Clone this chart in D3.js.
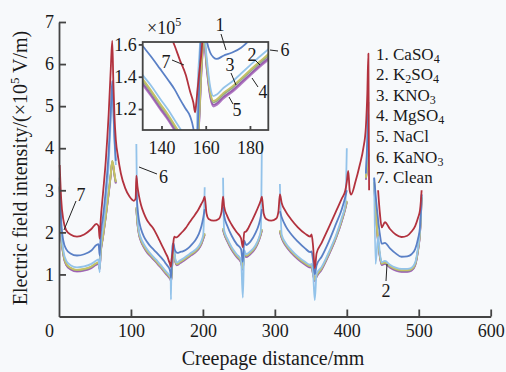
<!DOCTYPE html>
<html lang="en">
<head>
<meta charset="UTF-8">
<title>Creepage electric field</title>
<script src="https://d3js.org/d3.v7.min.js"></script>
<style>
    body {margin: 0; background: #f7f9fb;}
    svg {font-family: "Liberation Serif", "Times New Roman", "DejaVu Serif", serif;}
    text {fill: #1a1a1a;}
    .axis path, .axis line {stroke: #444; stroke-width: 1.8;}
    .curve {fill: none; stroke-width: 1.8; stroke-linejoin: round;}
    .lead {stroke: #222; stroke-width: 1;}
</style>
</head>
<body>
<script>
    // creepage distance (mm), shared by every series; null = no value drawn
    const distance = [
        1, 3, 6, 10, 16, 25, 35, 45, 52, 55, 56.5, 58, 61, 65, 69, 72, 74, 75.5, 77, 79,
        82, 86, 92, 98, 104, 106.5,
        107.5, 109, 111, 114, 118, 122, 126, 131.5, 135, 139.3, 143, 146, 148.4, 151, 152.9, 154.4,
        155.2, 155.6, 156.3, 157.2, 158.2, 159.2, 160.5, 162, 163.5, 165, 168, 172, 176, 180, 184, 189,
        194, 198, 200.5, 202.5,
        205, 208, 215, 222, 226,
        228, 229.5, 234, 240, 247, 253, 255.5, 257.5, 260, 266, 273, 278, 280.5, 282,
        284.5, 288, 295, 302, 305,
        307, 309.5, 315, 323, 332, 342, 349, 351, 353, 355.5, 358, 365, 375, 385, 393, 398, 400,
        402, 404, 406, 412, 418, 423,
        426.5, 428.5, 430, 431,
        435,
        438, 440, 443.5, 446, 448.5, 453, 460, 468, 476, 484, 490, 495, 499, 501.7, 503, 504
    ];

    const clean = [
        3.60, 2.80, 2.30, 2.05, 1.95, 1.90, 1.95, 2.08, 2.20, 2.15, 1.85, 2.30, 2.90, 3.70, 4.80, 5.90, 6.55, 5.60, 4.80, 4.20,
        3.80, 3.40, 3.05, 2.85, 2.75, 2.80,
        3.35, 3.10, 2.88, 2.65, 2.45, 2.30, 2.20, 2.08, 1.97, 1.82, 1.69, 1.59, 1.50, 1.41, 1.31, 1.24,
        1.18, 1.22, 1.32, 1.44, 1.57, 1.80, 1.90, 1.88, 1.88, 1.90, 1.95, 2.02, 2.10, 2.20, 2.30, 2.42,
        2.55, 2.68, 2.76, 2.85,
        2.45, 2.32, 2.28, 2.32, 2.50,
        2.85, 2.62, 2.38, 2.18, 2.00, 1.86, 1.65, 2.00, 2.02, 2.20, 2.45, 2.65, 2.76, 2.85,
        2.45, 2.32, 2.28, 2.33, 2.50,
        2.90, 2.70, 2.50, 2.30, 2.12, 1.97, 1.90, 1.95, 1.70, 1.14, 1.50, 1.75, 2.12, 2.50, 2.80, 3.00, 3.20,
        3.46, 3.00, 2.90, 3.20, 3.60, 4.00,
        4.50, 5.30, 6.25, 3.00,
        null,
        null, null, 3.00, 2.45, 2.12, 2.24, 2.08, 1.95, 1.89, 1.92, 2.02, 2.15, 2.35, 2.52, 2.75, 3.00
    ];

    const caso4 = [
        3.30, 2.30, 1.80, 1.60, 1.50, 1.45, 1.48, 1.57, 1.70, 1.72, 1.45, 1.95, 2.35, 3.00, 3.90, 4.90, 5.60, 5.00, 4.30, 3.70,
        null, null, null, null, null, null,
        3.00, 2.60, 2.30, 2.08, 1.90, 1.78, 1.69, 1.59, 1.53, 1.45, 1.38, 1.32, 1.26, 1.20, 1.156, 1.08,
        1.00, 0.92, 1.05, 1.40, 1.72, 1.74, 1.62, 1.55, 1.52, 1.51, 1.53, 1.55, 1.58, 1.63, 1.70, 1.80,
        1.95, 2.15, 2.35, 2.55,
        null, null, null, null, null,
        2.60, 2.40, 2.15, 1.92, 1.72, 1.60, 1.30, 1.80, 1.70, 1.78, 1.98, 2.20, 2.38, 2.55,
        null, null, null, null, null,
        2.50, 2.36, 2.15, 1.95, 1.78, 1.62, 1.53, 1.55, 1.35, 1.00, 1.22, 1.42, 1.78, 2.20, 2.55, 2.85, 3.00,
        null, null, null, null, null, null,
        3.40, 4.20, 5.10, null,
        null,
        3.30, 2.90, 2.30, 1.95, 1.73, 1.75, 1.62, 1.50, 1.42, 1.43, 1.48, 1.60, 1.85, 2.12, 2.50, 2.90
    ];

    const k2so4 = [
        3.10, 2.00, 1.50, 1.26, 1.16, 1.11, 1.13, 1.19, 1.27, 1.29, 1.16, 1.55, 1.90, 2.40, 2.95, 3.40, 3.70, 3.60, 3.40, 3.20,
        null, null, null, null, null, null,
        2.60, 2.25, 2.00, 1.82, 1.68, 1.57, 1.49, 1.386, 1.32, 1.235, 1.165, 1.10, 1.05, 1.00, 0.96, 0.93,
        0.90, 0.85, 0.95, 1.20, 1.50, 1.65, 1.48, 1.31, 1.25, 1.26, 1.30, 1.34, 1.39, 1.44, 1.49, 1.55,
        1.64, 1.76, 1.88, 1.98,
        null, null, null, null, null,
        2.10, 2.00, 1.82, 1.62, 1.45, 1.32, 1.15, 1.52, 1.45, 1.52, 1.66, 1.85, 1.98, 2.08,
        null, null, null, null, null,
        2.05, 1.90, 1.72, 1.55, 1.40, 1.27, 1.20, 1.22, 1.05, 0.88, 0.98, 1.15, 1.50, 1.90, 2.30, 2.60, 2.75,
        null, null, null, null, null, null,
        3.30, 3.60, 3.90, null,
        null,
        3.20, 2.60, 1.80, 1.45, 1.26, 1.29, 1.20, 1.13, 1.10, 1.10, 1.13, 1.25, 1.60, 2.00, 2.40, 2.85
    ];

    const kno3 = [
        3.09, 1.99, 1.49, 1.25, 1.15, 1.10, 1.12, 1.18, 1.26, 1.28, 1.15, 1.54, 1.89, 2.39, 2.94, 3.39, 3.69, 3.59, 3.39, 3.19,
        null, null, null, null, null, null,
        2.59, 2.24, 1.99, 1.81, 1.67, 1.56, 1.48, 1.376, 1.31, 1.225, 1.155, 1.09, 1.04, 0.99, 0.95, 0.92,
        0.89, 0.84, 0.94, 1.19, 1.49, 1.64, 1.47, 1.30, 1.24, 1.25, 1.29, 1.33, 1.38, 1.43, 1.48, 1.54,
        1.63, 1.75, 1.87, 1.97,
        null, null, null, null, null,
        2.09, 1.99, 1.81, 1.61, 1.44, 1.31, 1.14, 1.51, 1.44, 1.51, 1.65, 1.84, 1.97, 2.07,
        null, null, null, null, null,
        2.04, 1.89, 1.71, 1.54, 1.39, 1.26, 1.19, 1.21, 1.04, 0.87, 0.97, 1.14, 1.49, 1.89, 2.29, 2.59, 2.74,
        null, null, null, null, null, null,
        3.28, 3.58, 3.87, null,
        null,
        3.19, 2.59, 1.79, 1.44, 1.25, 1.28, 1.19, 1.12, 1.09, 1.09, 1.12, 1.24, 1.59, 1.99, 2.39, 2.84
    ];

    const mgso4 = [
        3.07, 1.97, 1.47, 1.23, 1.13, 1.08, 1.10, 1.16, 1.24, 1.26, 1.13, 1.52, 1.87, 2.37, 2.92, 3.37, 3.67, 3.57, 3.37, 3.17,
        null, null, null, null, null, null,
        2.57, 2.22, 1.97, 1.79, 1.65, 1.54, 1.46, 1.36, 1.295, 1.21, 1.14, 1.075, 1.025, 0.975, 0.935, 0.905,
        0.875, 0.83, 0.92, 1.17, 1.47, 1.62, 1.45, 1.285, 1.225, 1.235, 1.275, 1.315, 1.365, 1.415, 1.465, 1.525,
        1.61, 1.73, 1.85, 1.95,
        null, null, null, null, null,
        2.07, 1.97, 1.79, 1.59, 1.42, 1.29, 1.12, 1.49, 1.42, 1.49, 1.63, 1.82, 1.95, 2.05,
        null, null, null, null, null,
        2.02, 1.87, 1.69, 1.52, 1.37, 1.24, 1.17, 1.19, 1.02, 0.85, 0.95, 1.12, 1.47, 1.87, 2.27, 2.57, 2.72,
        null, null, null, null, null, null,
        3.26, 3.56, 3.85, null,
        null,
        3.17, 2.57, 1.77, 1.42, 1.23, 1.26, 1.17, 1.10, 1.07, 1.07, 1.10, 1.22, 1.57, 1.97, 2.37, 2.82
    ];

    const nacl = [
        3.06, 1.96, 1.46, 1.22, 1.12, 1.07, 1.09, 1.15, 1.23, 1.25, 1.12, 1.51, 1.86, 2.36, 2.91, 3.36, 3.66, 3.56, 3.36, 3.16,
        null, null, null, null, null, null,
        2.56, 2.21, 1.96, 1.78, 1.64, 1.53, 1.45, 1.35, 1.285, 1.20, 1.13, 1.065, 1.015, 0.965, 0.925, 0.895,
        0.865, 0.82, 0.91, 1.16, 1.46, 1.61, 1.44, 1.275, 1.215, 1.225, 1.265, 1.305, 1.355, 1.405, 1.455, 1.515,
        1.60, 1.72, 1.84, 1.94,
        null, null, null, null, null,
        2.06, 1.96, 1.78, 1.58, 1.41, 1.28, 1.11, 1.48, 1.41, 1.48, 1.62, 1.81, 1.94, 2.04,
        null, null, null, null, null,
        2.01, 1.86, 1.68, 1.51, 1.36, 1.23, 1.16, 1.18, 1.01, 0.84, 0.94, 1.11, 1.46, 1.86, 2.26, 2.56, 2.71,
        null, null, null, null, null, null,
        3.25, 3.55, 3.84, null,
        null,
        3.16, 2.56, 1.76, 1.41, 1.22, 1.25, 1.16, 1.09, 1.06, 1.06, 1.09, 1.21, 1.56, 1.96, 2.36, 2.81
    ];

    const kano3 = [
        3.20, 2.10, 1.58, 1.33, 1.22, 1.17, 1.19, 1.25, 1.33, 1.36, 1.05, 1.70, 2.10, 2.70, 3.60, 4.70, 5.45, 4.90, 4.20, 3.60,
        null, null, null, null, null, null,
        4.10, 2.40, 2.05, 1.86, 1.72, 1.61, 1.52, 1.41, 1.35, 1.265, 1.195, 1.13, 1.08, 1.03, 0.99, 0.96,
        0.93, 0.40, 1.30, 1.55, 1.72, 1.68, 1.51, 1.34, 1.28, 1.29, 1.33, 1.37, 1.42, 1.47, 1.52, 1.58,
        1.67, 1.80, 1.95, 3.07,
        null, null, null, null, null,
        3.30, 2.05, 1.85, 1.65, 1.48, 1.35, 0.45, 1.58, 1.48, 1.55, 1.69, 1.88, 2.05, 4.17,
        null, null, null, null, null,
        3.15, 1.95, 1.75, 1.58, 1.43, 1.30, 1.23, 1.25, 1.08, 0.39, 1.02, 1.18, 1.53, 1.93, 2.35, 2.68, 4.00,
        null, null, null, null, null, null,
        3.40, 4.00, 4.80, null,
        null,
        3.30, 1.25, 1.90, 1.50, 1.29, 1.32, 1.23, 1.16, 1.13, 1.13, 1.16, 1.28, 1.65, 2.05, 2.45, 2.90
    ];

    const labels  = ["CaSO4", "K2SO4", "KNO3", "MgSO4", "NaCl", "KaNO3", "Clean"];
    const colors  = ["#5a80c6", "#c6c164", "#93ab86", "#9a5db0", "#b27cc4", "#93c3ea", "#b2323e"];
    const xTicks  = [0, 100, 200, 300, 400, 500, 600];
    const yTicks  = [1, 2, 3, 4, 5, 6, 7];
    const insetXTicks = [140, 160, 180];
    const insetYTicks = [1.2, 1.4, 1.6];

    const series = [caso4, k2so4, kno3, mgso4, nacl, kano3, clean]
            .map((values, i) => ({label: labels[i], color: colors[i], values: values}));
    // bottom to top: 5, 4, 3, 2, 6, 1, 7
    const drawOrder = [4, 3, 2, 1, 5, 0, 6].map(i => series[i]);

    const width = 506, height = 372;

    const x = d3.scaleLinear().domain([0, 600]).range([59, 490.7]);
    const y = d3.scaleLinear().domain([0, 7]).range([316.5, 22]);

    const svg = d3.select("body").append("svg")
            .attr("width", width).attr("height", height);

    const rows = d3.range(distance.length);
    const lineFor = (values, sx, sy) => d3.line()
            .defined(i => values[i] != null)
            .x(i => sx(distance[i]))
            .y(i => sy(values[i]))
            .curve(d3.curveMonotoneX)(rows);

    // main curves
    svg.append("g").selectAll("path")
        .data(drawOrder).join("path")
        .attr("class", "curve")
        .attr("stroke", d => d.color)
        .attr("d", d => lineFor(d.values, x, y));

    // axes, ticks pointing inwards
    const xAxis = svg.append("g").attr("class", "axis")
            .attr("transform", `translate(0,${y(0)})`)
            .call(d3.axisBottom(x).tickValues(xTicks).tickFormat(d3.format("d"))
                    .tickSize(-7).tickSizeOuter(0).tickPadding(8));
    svg.append("g").attr("class", "axis")
            .attr("transform", `translate(${x(0)},0)`)
            .call(d3.axisLeft(y).tickValues(yTicks).tickFormat(d3.format("d"))
                    .tickSize(-7).tickSizeOuter(0).tickPadding(5));
    xAxis.selectAll(".tick").filter(d => d === 0).select("text").attr("x", -10);
    xAxis.selectAll(".tick").filter(d => d === 0).select("line").remove();

    svg.append("text")
        .attr("x", 273).attr("y", 365)
        .attr("text-anchor", "middle").attr("font-size", 20)
        .text("Creepage distance/mm");

    const yTitle = svg.append("text")
        .attr("transform", "translate(27,168) rotate(-90)")
        .attr("text-anchor", "middle").attr("font-size", 20);
    yTitle.append("tspan").text("Electric field intensity/(\u00d710");
    yTitle.append("tspan").attr("font-size", 13).attr("dy", -8).text("5");
    yTitle.append("tspan").attr("dy", 8).text(" V/m)");

    // chemical formula with subscript digits
    function formula(sel, str) {
        let shifted = false;
        str.split(/(\d+)/).filter(s => s).forEach(s => {
            const sub = /^\d+$/.test(s);
            const t = sel.append("tspan").text(s);
            if (sub) { t.attr("font-size", 12).attr("dy", shifted ? 0 : 3); shifted = true; }
            else { t.attr("dy", shifted ? -3 : 0); shifted = false; }
        });
    }

    // legend
    const legend = svg.append("g").attr("font-size", 17);
    series.forEach((s, i) => {
        const t = legend.append("text").attr("x", 376).attr("y", 59.5 + i * 20.6);
        t.append("tspan").text(`${i + 1}. `);
        formula(t, s.label);
    });

    // inset zoom
    const ix = d3.scaleLinear().domain([131.5, 188.3]).range([142.7, 268.3]);
    const iy = d3.scaleLinear().domain([1.07, 1.615]).range([130, 42]);
    const box = {x: ix.range()[0], y: iy.range()[1],
                 w: ix.range()[1] - ix.range()[0], h: iy.range()[0] - iy.range()[1]};

    svg.append("clipPath").attr("id", "insetClip")
        .append("rect")
        .attr("x", box.x).attr("y", box.y).attr("width", box.w).attr("height", box.h);

    const inset = svg.append("g");
    inset.append("rect")
        .attr("x", box.x).attr("y", box.y).attr("width", box.w).attr("height", box.h)
        .attr("fill", "#fbfcfd");
    inset.append("g").attr("clip-path", "url(#insetClip)")
        .selectAll("path")
        .data(drawOrder).join("path")
        .attr("class", "curve")
        .attr("stroke-width", 2)
        .attr("stroke", d => d.color)
        .attr("d", d => lineFor(d.values, ix, iy));
    inset.append("rect")
        .attr("x", box.x).attr("y", box.y).attr("width", box.w).attr("height", box.h)
        .attr("fill", "none").attr("stroke", "#444").attr("stroke-width", 1.8);

    inset.append("g").attr("class", "axis")
        .attr("transform", `translate(0,${iy.range()[0]})`)
        .call(d3.axisBottom(ix).tickValues(insetXTicks).tickSize(-4).tickSizeOuter(0).tickPadding(11))
        .call(g => g.select(".domain").remove());
    inset.append("g").attr("class", "axis")
        .attr("transform", `translate(${ix.range()[0]},0)`)
        .call(d3.axisLeft(iy).tickValues(insetYTicks).tickFormat(d3.format(".1f"))
                .tickSize(4).tickSizeOuter(0).tickPadding(2))
        .call(g => g.select(".domain").remove());

    // d3 axes set their own font; use the page font at the chart's size instead
    svg.selectAll(".axis").attr("font-family", null).attr("font-size", 18);
    svg.selectAll(".axis text").attr("fill", "#1a1a1a");

    const mult = svg.append("text").attr("x", 147).attr("y", 34).attr("font-size", 18);
    mult.append("tspan").text("\u00d710");
    mult.append("tspan").attr("font-size", 12).attr("dy", -8).text("5");

    // numbered call-outs: [label, text x, text y, leader x1, y1, x2, y2]
    const callouts = [
        ["7", 81, 201, 76, 201, 64, 230],
        ["6", 163.5, 183, 139, 167, 157, 174],
        ["2", 386, 297, 387, 264, 386, 281],
        ["1", 220, 31, 221, 34, 226, 50],
        ["7", 166, 68, 172, 60, 184, 65],
        ["2", 252, 61, 255, 60, 260, 65],
        ["3", 230, 71, 231, 73, 236, 85],
        ["4", 263, 98, 252, 78, 258, 87],
        ["5", 237, 116, 229, 97, 233, 104],
        ["6", 285, 56, 270, 50, 278, 51]
    ];
    const notes = svg.append("g");
    notes.selectAll("line").data(callouts).join("line")
        .attr("class", "lead")
        .attr("x1", d => d[3]).attr("y1", d => d[4])
        .attr("x2", d => d[5]).attr("y2", d => d[6]);
    notes.selectAll("text").data(callouts).join("text")
        .attr("x", d => d[1]).attr("y", d => d[2])
        .attr("text-anchor", "middle").attr("font-size", 18)
        .text(d => d[0]);
</script>
</body>
</html>
